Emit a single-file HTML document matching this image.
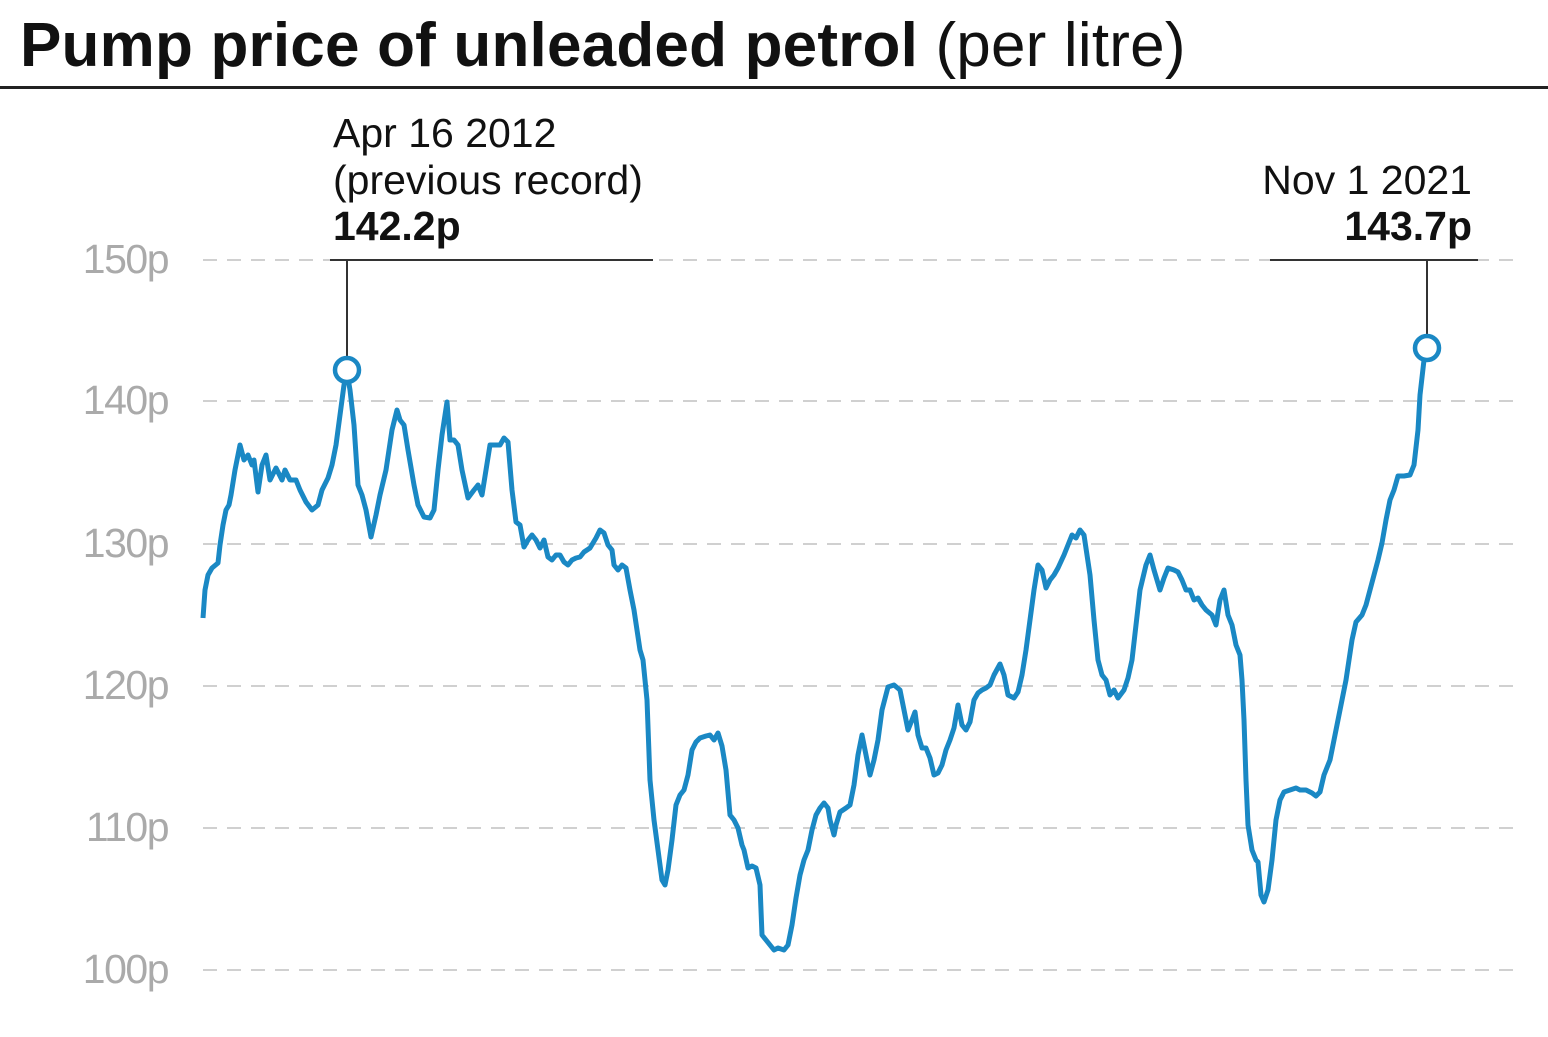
<!DOCTYPE html>
<html><head><meta charset="utf-8"><style>
body{margin:0;background:#fff;width:1548px;height:1032px;overflow:hidden;font-family:"Liberation Sans",sans-serif;}
</style></head><body>
<svg width="1548" height="1032" xmlns="http://www.w3.org/2000/svg" font-family="Liberation Sans, sans-serif">
<text x="20" y="66" font-size="62" font-weight="bold" fill="#111" letter-spacing="0.2">Pump price of unleaded petrol <tspan font-weight="normal">(per litre)</tspan></text>
<rect x="0" y="86" width="1548" height="3" fill="#222"/>
<g stroke="#d0d0d0" stroke-width="2" stroke-dasharray="14,10">
<line x1="203" y1="260" x2="1520" y2="260"/><line x1="203" y1="401" x2="1520" y2="401"/>
<line x1="203" y1="544" x2="1520" y2="544"/><line x1="203" y1="686" x2="1520" y2="686"/>
<line x1="203" y1="828" x2="1520" y2="828"/><line x1="203" y1="970" x2="1520" y2="970"/>
</g>
<g font-size="41" fill="#aaa" text-anchor="end" letter-spacing="-1.5">
<text x="168" y="273">150p</text><text x="168" y="414">140p</text><text x="168" y="557">130p</text>
<text x="168" y="699">120p</text><text x="168" y="841">110p</text><text x="168" y="983">100p</text>
</g>
<g font-size="41" fill="#111" letter-spacing="0">
<text x="333" y="147">Apr 16 2012</text><text x="333" y="194">(previous record)</text>
<text x="333" y="240" font-weight="bold">142.2p</text>
<text x="1472" y="194" text-anchor="end">Nov 1 2021</text>
<text x="1472" y="240" text-anchor="end" font-weight="bold">143.7p</text>
</g>
<g stroke="#333" stroke-width="2">
<line x1="330" y1="260" x2="653" y2="260"/><line x1="347" y1="260" x2="347" y2="356"/>
<line x1="1270" y1="260" x2="1478" y2="260"/><line x1="1427" y1="260" x2="1427" y2="334"/>
</g>
<polyline fill="none" stroke="#1a88c4" stroke-width="5" stroke-linejoin="round" points="203,618 205,590 208,575 212,568 218,563 220,545 223,525 226,510 229,505 231,495 235,470 240,445 244,460 248,455 252,465 254,460 258,492 262,465 266,455 270,480 276,468 282,480 285,470 290,480 296,480 300,490 306,502 312,510 318,505 322,490 328,478 332,465 336,445 340,415 344,385 347,372 350,390 354,425 358,485 362,495 366,510 371,537 376,515 380,495 386,470 392,430 397,410 400,420 404,425 408,450 414,485 418,505 424,517 430,518 434,510 438,470 442,435 447,402 450,440 454,440 458,445 462,470 468,498 474,490 478,485 482,495 486,470 490,445 494,445 500,445 504,438 508,442 512,490 516,522 520,525 524,547 528,540 532,535 536,540 540,548 544,540 548,557 552,560 556,555 560,555 564,562 568,565 572,560 576,558 580,557 584,552 590,548 596,538 600,530 604,533 608,545 612,550 614,565 618,570 622,565 626,568 630,590 634,610 640,650 643,660 647,700 650,780 654,820 658,850 662,880 665,885 668,870 672,840 676,805 680,795 684,790 688,775 692,750 696,742 700,738 706,736 710,735 714,740 718,733 722,746 726,770 730,815 734,820 738,828 742,845 744,850 748,868 752,866 756,868 760,885 762,935 766,940 770,945 774,950 778,948 784,950 788,945 792,925 796,898 800,875 804,860 808,850 812,830 816,815 820,808 824,803 828,808 830,820 834,835 836,825 840,812 846,808 850,805 854,785 858,755 862,735 866,755 870,775 874,760 878,740 882,710 888,687 894,685 900,690 904,710 908,730 912,720 915,712 918,735 922,748 926,748 930,758 934,775 938,773 942,765 946,750 950,740 954,728 958,705 962,725 966,730 970,722 974,700 978,693 982,690 986,688 990,685 994,675 1000,664 1004,675 1008,695 1014,698 1018,692 1022,675 1026,650 1030,620 1034,590 1038,565 1042,570 1046,588 1050,580 1054,575 1058,568 1064,555 1068,545 1072,535 1076,538 1080,530 1084,535 1090,575 1094,620 1098,660 1102,675 1106,680 1110,695 1114,690 1118,698 1124,690 1128,678 1132,660 1136,625 1140,590 1146,565 1150,555 1154,570 1160,590 1164,578 1168,568 1174,570 1178,572 1182,580 1186,590 1190,590 1194,600 1198,598 1202,605 1206,610 1212,615 1216,625 1220,600 1224,590 1228,615 1232,625 1236,645 1240,655 1242,680 1244,720 1246,780 1248,825 1252,850 1256,860 1258,862 1261,895 1264,902 1268,890 1272,860 1276,820 1280,800 1284,792 1290,790 1296,788 1300,790 1306,790 1312,793 1316,796 1320,792 1324,775 1330,760 1336,730 1342,700 1346,680 1352,640 1356,622 1362,615 1366,605 1370,590 1374,575 1378,560 1382,543 1386,520 1390,500 1394,490 1398,476 1404,476 1410,475 1414,465 1418,430 1420,395 1424,360 1427,348"/>
<circle cx="347" cy="370" r="12" fill="#fff" stroke="#1a88c4" stroke-width="4.5"/>
<circle cx="1427" cy="348" r="12" fill="#fff" stroke="#1a88c4" stroke-width="4.5"/>
</svg>
</body></html>
